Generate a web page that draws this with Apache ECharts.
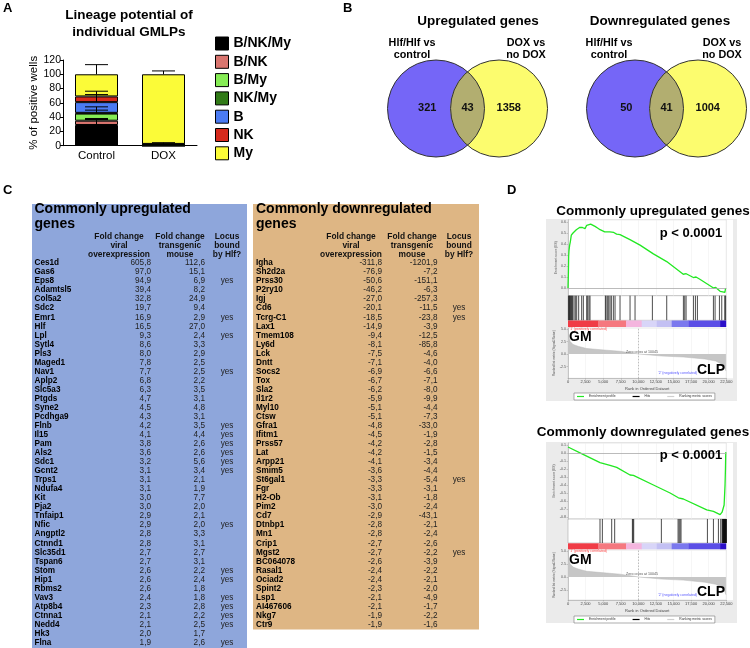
<!DOCTYPE html>
<html><head><meta charset="utf-8">
<script src="https://cdn.jsdelivr.net/npm/echarts@6/dist/echarts.min.js"></script>
<style>html,body{margin:0;padding:0;background:#fff}#c{width:750px;height:648px}</style>
</head><body><div id="c"></div>
<script>
// ---------------- DATA ----------------
const lineageCategories = ['Control', 'DOX'];
const lineageNames = ['B/NK/My', 'B/NK', 'B/My', 'NK/My', 'B', 'NK', 'My'];
const lineageControl = [29, 6, 10, 1, 15, 8, 31];
const lineageDox = [0, 0, 0, 2.5, 0, 0, 97.5];
const lineageControlErr = [7.7, 3.1, 9.4, 3.8, 10.6, 7.3, 13.5];
const lineageDoxErr = [0, 0, 0, 1.7, 0, 0, 4.7];
const lineageTicks = [0, 20, 40, 60, 80, 100, 120];

const vennUp = [321, 43, 1358];
const vennDown = [50, 41, 1004];

const upGenes = ['Ces1d','Gas6','Eps8','Adamtsl5','Col5a2','Sdc2','Emr1','Hlf','Lpl','Sytl4','Pls3','Maged1','Nav1','Aplp2','Slc5a3','Ptgds','Syne2','Pcdhga9','Flnb','Il15','Pam','Als2','Sdc1','Gcnt2','Trps1','Ndufa4','Kit','Pja2','Tnfaip1','Nfic','Angptl2','Ctnnd1','Slc35d1','Tspan6','Stom','Hip1','Rbms2','Vav3','Atp8b4','Ctnna1','Nedd4','Hk3','Flna'];
const upViral = [605.8,97.0,94.9,39.4,32.8,19.7,16.9,16.5,9.3,8.6,8.0,7.8,7.7,6.8,6.3,4.7,4.5,4.3,4.2,4.1,3.8,3.6,3.2,3.1,3.1,3.1,3.0,3.0,2.9,2.9,2.8,2.8,2.7,2.7,2.6,2.6,2.6,2.4,2.3,2.1,2.1,2.0,1.9];
const upTransgenic = [112.6,15.1,6.9,8.2,24.9,9.4,2.9,27.0,2.4,3.3,2.9,2.5,2.5,2.2,3.5,3.1,4.8,3.1,3.5,4.4,2.6,2.6,5.6,3.4,2.1,1.9,7.7,2.0,2.1,2.0,3.3,3.1,2.7,3.1,2.2,2.4,1.8,1.8,2.8,2.2,2.5,1.7,2.6];
const upBound = ['Eps8','Emr1','Lpl','Nav1','Flnb','Il15','Pam','Als2','Sdc1','Gcnt2','Nfic','Stom','Hip1','Vav3','Atp8b4','Ctnna1','Nedd4','Flna'];

const downGenes = ['Igha','Sh2d2a','Prss30','P2ry10','Igj','Cd6','Tcrg-C1','Lax1','Tmem108','Ly6d','Lck','Dntt','Socs2','Tox','Sla2','Il1r2','Myl10','Ctsw','Gfra1','Ifitm1','Prss57','Lat','Arpp21','Smim5','St6gal1','Fgr','H2-Ob','Pim2','Cd7','Dtnbp1','Mn1','Crip1','Mgst2','BC064078','Rasal1','Ociad2','Spint2','Lsp1','AI467606','Nkg7','Ctr9'];
const downViral = [-311.8,-76.9,-50.6,-46.2,-27.0,-20.1,-18.5,-14.9,-9.4,-8.1,-7.5,-7.1,-6.9,-6.7,-6.2,-5.9,-5.1,-5.1,-4.8,-4.5,-4.2,-4.2,-4.1,-3.6,-3.3,-3.3,-3.1,-3.0,-2.9,-2.8,-2.8,-2.7,-2.7,-2.6,-2.4,-2.4,-2.3,-2.1,-2.1,-1.9,-1.9];
const downTransgenic = [-1201.9,-7.2,-151.1,-6.3,-257.3,-11.5,-23.8,-3.9,-12.5,-85.8,-4.6,-4.0,-6.6,-7.1,-8.0,-9.9,-4.4,-7.3,-33.0,-1.9,-2.8,-1.5,-3.4,-4.4,-5.4,-3.1,-1.8,-2.4,-43.1,-2.1,-2.4,-2.6,-2.2,-3.9,-2.2,-2.1,-2.0,-4.9,-1.7,-2.2,-1.6];
const downBound = ['Cd6','Tcrg-C1','St6gal1','Mgst2'];

const gseaUpES = [[0,0],[60,0.14],[95,0.29],[140,0.34],[235,0.39],[330,0.42],[470,0.48],[600,0.47],[715,0.5],[900,0.49],[1180,0.53],[1400,0.52],[1640,0.55],[2050,0.55],[2420,0.54],[2660,0.57],[2900,0.565],[3225,0.58],[3500,0.575],[3840,0.56],[4200,0.545],[4560,0.53],[5220,0.51],[5500,0.51],[5940,0.51],[6195,0.52],[6500,0.505],[6910,0.49],[7400,0.485],[7885,0.47],[8805,0.44],[10240,0.39],[12135,0.31],[14030,0.24],[16385,0.125],[16800,0.13],[17820,0.095],[18200,0.1],[18740,0.08],[20685,0.0],[21000,0.005],[21620,-0.03],[22000,-0.035],[22300,-0.04],[22400,0.0]];
const gseaUpHits = [95,142,189,285,379,474,569,664,853,1043,1233,1517,1944,2181,2655,2797,2987,3129,5309,5405,5594,5784,5973,6163,6447,6685,7395,8818,9529,11994,14033,16403,16593,16782,17825,18110,18394,20669,20907,21523,21855,22281,22380];
const gseaDownES = [[0,0.075],[2000,-0.01],[4550,-0.12],[4790,-0.105],[5970,-0.155],[6920,-0.18],[8820,-0.275],[9300,-0.28],[12140,-0.4],[14510,-0.5],[15690,-0.56],[16400,-0.575],[19720,-0.71],[20670,-0.73],[21620,-0.77],[21900,-0.74],[22190,-0.65],[22320,-0.4],[22380,-0.2],[22420,0.0],[22440,0.01]];
const gseaDownHits = [4550,4885,6210,6635,9150,9245,9340,13270,15645,15790,15930,16065,19815,20670,21380,21710,21900,21995,22020,22050,22080,22100,22130,22160,22190,22220,22250,22280,22305,22330,22350,22365,22380,22395,22405,22415,22425,22432,22440,22446,22452];
const gseaMetric = [[0,5.5],[100,3.5],[310,2.5],[715,1.9],[1535,1.5],[2660,1.1],[5120,0.8],[7370,0.55],[10045,0],[13310,-0.4],[16380,-0.6],[19450,-1.0],[20990,-1.4],[21810,-2.0],[22320,-2.9],[22450,-3.4]];
const gseaZeroCross = 10045;
const gseaBarEdges = [0,4315,8250,10475,12610,14740,17115,21620,22450];
const gseaBarColors = ['#f03c46','#f5787f','#f4b5de','#d8d5f8','#c3c0f3','#7b78ee','#5b4ee6','#2b0fc9'];
const gseaRankTicks = [0,2500,5000,7500,10000,12500,15000,17500,20000,22500];
const gseaUpTicks = [0,0.1,0.2,0.3,0.4,0.5,0.6];
const gseaDownTicks = [0.1,0,-0.1,-0.2,-0.3,-0.4,-0.5,-0.6,-0.7,-0.8];
const gseaMetricTicks = [-2.5,0,2.5,5];

// ---------------- BUILD ----------------
const font = "'Liberation Sans', Arial, Helvetica, sans-serif";
const grids = [], xAxes = [], yAxes = [], series = [], graphics = [];
function addGrid(g, xa, ya) {
  grids.push(g); const gi = grids.length - 1;
  xa.gridIndex = gi; ya.gridIndex = gi; xAxes.push(xa); yAxes.push(ya); return gi;
}
function txt(text, x, y, o) {
  graphics.push({type:'text', z:100, silent:true, style:Object.assign({text, x, y, fill:'#000', fontFamily:font, fontSize:12, align:'left', verticalAlign:'middle'}, o||{})});
}
const commas = v => String(v).replace(/\B(?=(\d{3})+(?!\d))/g, ',');
const fmt = v => v.toFixed(1).replace('.', ',');

// panel labels
txt('A', 3, 8, {fontWeight:'bold', fontSize:13});
txt('B', 343, 8, {fontWeight:'bold', fontSize:13});
txt('C', 3, 190, {fontWeight:'bold', fontSize:13});
txt('D', 507, 190, {fontWeight:'bold', fontSize:13});

// ---- Panel A ----
const lineageColors = ['#000000','#d9756f','#86ec55','#317a17','#4b7bf3','#d62a1c','#fbfb38'];
txt('Lineage potential of\nindividual GMLPs', 129, 24, {fontWeight:'bold', fontSize:13.5, align:'center', lineHeight:17});
const gA = addGrid({left:63, top:60, width:134, height:85.7},
  {type:'category', data:lineageCategories, axisLine:{lineStyle:{color:'#000', width:1}},
   axisTick:{alignWithLabel:true, length:4, lineStyle:{color:'#000'}},
   axisLabel:{color:'#000', fontSize:11.5, fontFamily:font, margin:4}},
  {type:'value', min:0, max:120, interval:20, axisLine:{show:true, lineStyle:{color:'#000'}},
   axisTick:{show:true, length:3, lineStyle:{color:'#000'}}, splitLine:{show:false},
   axisLabel:{color:'#000', fontSize:10.5, fontFamily:font, margin:2, customValues:lineageTicks},
   name:'% of positive wells', nameLocation:'middle', nameGap:19,
   nameTextStyle:{fontSize:11.5, color:'#000', fontFamily:font}});
lineageNames.forEach((n, i) => series.push({type:'bar', name:n, stack:'lin', xAxisIndex:gA, yAxisIndex:gA, barWidth:43,
  data:[lineageControl[i], lineageDox[i]], itemStyle:{color:lineageColors[i], borderColor:'#000', borderWidth:1}, silent:true}));
const errData = [];
[lineageControl, lineageDox].forEach((vals, ci) => {
  const errs = ci === 0 ? lineageControlErr : lineageDoxErr; let cum = 0;
  vals.forEach((v, i) => { cum += v; if (errs[i] > 0) errData.push([ci, cum, cum + errs[i]]); });
});
series.push({type:'custom', xAxisIndex:gA, yAxisIndex:gA, data:errData, z:5, silent:true,
  renderItem:(p, api) => {
    const a = api.coord([api.value(0), api.value(1)]), b = api.coord([api.value(0), api.value(2)]), w = 11.5;
    return {type:'group', children:[
      {type:'line', shape:{x1:a[0], y1:a[1], x2:b[0], y2:b[1]}, style:{stroke:'#000', lineWidth:1}},
      {type:'line', shape:{x1:b[0]-w, y1:b[1], x2:b[0]+w, y2:b[1]}, style:{stroke:'#000', lineWidth:1}}]};
  }});

// ---- Panel B (Venn) ----
const vennR = 48.5, vennSep = 1.3;
txt('Upregulated genes', 478, 21, {fontWeight:'bold', fontSize:13.5, align:'center'});
txt('Downregulated genes', 660, 21, {fontWeight:'bold', fontSize:13.5, align:'center'});
function addVenn(cxA, cy, counts) {
  const g = addGrid({left:cxA - vennR, top:cy - vennR, width:(2 + vennSep) * vennR, height:2 * vennR},
    {type:'value', min:-1, max:1 + vennSep, show:false}, {type:'value', min:-1, max:1, show:false});
  series.push({type:'custom', xAxisIndex:g, yAxisIndex:g, silent:true, data:[[0, 0].concat(counts)],
    renderItem:(p, api) => {
      const c0 = api.coord([0, 0]), c1 = api.coord([vennSep, 0]), r = api.size([1, 1])[0];
      const d = c1[0] - c0[0], h = Math.sqrt(r * r - d * d / 4), al = Math.atan2(h, d / 2);
      const pts = [];
      for (let k = 0; k <= 40; k++) { const t = -al + 2 * al * k / 40; pts.push([c0[0] + r * Math.cos(t), c0[1] + r * Math.sin(t)]); }
      for (let k = 0; k <= 40; k++) { const t = Math.PI - al + 2 * al * k / 40; pts.push([c1[0] + r * Math.cos(t), c1[1] + r * Math.sin(t)]); }
      const tx = (s, x) => ({type:'text', style:{text:String(s), x, y:c0[1] - 1, fill:'#111', fontSize:11, fontWeight:'bold', fontFamily:font, align:'center', verticalAlign:'middle'}});
      return {type:'group', children:[
        {type:'circle', shape:{cx:c0[0], cy:c0[1], r}, style:{fill:'#7566f7'}},
        {type:'circle', shape:{cx:c1[0], cy:c1[1], r}, style:{fill:'#fcfc6e'}},
        {type:'polygon', shape:{points:pts}, style:{fill:'#b2ae70'}},
        {type:'circle', shape:{cx:c0[0], cy:c0[1], r}, style:{fill:null, stroke:'#333', lineWidth:1}},
        {type:'circle', shape:{cx:c1[0], cy:c1[1], r}, style:{fill:null, stroke:'#333', lineWidth:1}},
        tx(api.value(2), c0[0] - 0.18 * r), tx(api.value(3), (c0[0] + c1[0]) / 2), tx(api.value(4), c1[0] + 0.2 * r)]};
    }});
}
addVenn(436, 108.5, vennUp);
addVenn(635, 108.5, vennDown);
[[412, 'Hlf/Hlf vs\ncontrol'], [526, 'DOX vs\nno DOX'], [609, 'Hlf/Hlf vs\ncontrol'], [722, 'DOX vs\nno DOX']].forEach(([x, t]) =>
  txt(t, x, 49, {fontWeight:'bold', fontSize:10.8, align:'center', lineHeight:11.7}));

// ---- Panel C (tables) ----
function addTable(cfg) {
  graphics.push({type:'rect', z:-1, silent:true, shape:{x:cfg.x, y:204, width:cfg.w, height:cfg.bottom - 204}, style:{fill:cfg.bg}});
  txt(cfg.title + '\ngenes', cfg.x + cfg.cols.gene, 216.5, {fontWeight:'bold', fontSize:14, lineHeight:15.3});
  [['Fold change\nviral\noverexpression', cfg.cols.h1], ['Fold change\ntransgenic\nmouse', cfg.cols.h2], ['Locus\nbound\nby Hlf?', cfg.cols.yes]].forEach(([t, dx]) =>
    txt(t, cfg.x + dx, 245.6, {fontWeight:'bold', fontSize:8.4, align:'center', lineHeight:8.9, fill:'#111'}));
  const n = cfg.genes.length, rowH = 9.04;
  const g = addGrid({left:cfg.x, top:258.5, width:cfg.w, height:n * rowH},
    {type:'value', min:0, max:1, show:false}, {type:'category', data:cfg.genes, inverse:true, show:false});
  series.push({type:'custom', xAxisIndex:g, yAxisIndex:g, silent:true, data:cfg.genes.map((s, i) => [0, i]),
    renderItem:(p, api) => {
      const i = p.dataIndex, y = api.coord([0, i])[1], x0 = p.coordSys.x;
      const st = (text, x, o) => ({type:'text', style:Object.assign({text, x, y, fill:'#222', fontSize:8.2, fontFamily:font, align:'right', verticalAlign:'middle'}, o)});
      const ch = [st(cfg.genes[i], x0 + cfg.cols.gene, {fill:'#000', fontWeight:'bold', align:'left'}),
        st(fmt(cfg.v1[i]), x0 + cfg.cols.v1, {}), st(fmt(cfg.v2[i]), x0 + cfg.cols.v2, {})];
      if (cfg.bound.indexOf(cfg.genes[i]) >= 0) ch.push(st('yes', x0 + cfg.cols.yes, {align:'center'}));
      return {type:'group', children:ch};
    }});
}
addTable({x:32, w:215, bottom:648, bg:'#8ea6db', title:'Commonly upregulated', genes:upGenes, v1:upViral, v2:upTransgenic, bound:upBound,
  cols:{gene:2.5, v1:119, v2:173, yes:195, h1:87, h2:148}});
addTable({x:253, w:226, bottom:629.5, bg:'#deb684', title:'Commonly downregulated', genes:downGenes, v1:downViral, v2:downTransgenic, bound:downBound,
  cols:{gene:3, v1:129, v2:184.5, yes:206, h1:98, h2:159}});

// ---- Panel D (GSEA) ----
function addGsea(c) {
  graphics.push({type:'rect', z:-2, silent:true, shape:{x:546, y:c.boxTop, width:191, height:c.boxH}, style:{fill:'#ebebeb'}});
  graphics.push({type:'rect', z:-1, silent:true, shape:{x:568, y:c.esTop, width:165, height:c.metTop + c.metH - c.esTop}, style:{fill:'#fff'}});
  const L = 568, W = 158.3, axC = '#9a9a9a';
  const gEs = addGrid({left:L, width:W, top:c.esTop, height:c.esH, show:true, borderColor:'#ccc', borderWidth:0.5, backgroundColor:'#fff'},
    {type:'value', min:0, max:22500, interval:2500, axisLabel:{show:false}, axisTick:{show:false}, axisLine:{show:false},
     splitLine:{show:true, lineStyle:{color:'#ececec', width:0.5}}},
    {type:'value', min:c.esMin, max:c.esMax, axisLine:{show:true, lineStyle:{color:axC, width:0.5}},
     axisTick:{show:true, customValues:c.esTicks, length:1.5, lineStyle:{color:axC, width:0.5}},
     axisLabel:{customValues:c.esTicks, fontSize:3.6, color:'#555', margin:2, fontFamily:font, formatter:v => v.toFixed(1)},
     splitLine:{show:false}, name:'Enrichment score (ES)', nameLocation:'middle', nameGap:10,
     nameTextStyle:{fontSize:3.3, color:'#555', fontFamily:font}});
  series.push({type:'line', name:'Enrichment profile', xAxisIndex:gEs, yAxisIndex:gEs, data:c.es, showSymbol:false, silent:true,
    lineStyle:{color:'#22e822', width:1.3}, itemStyle:{color:'#22e822'}, z:4,
    markLine:{silent:true, symbol:'none', label:{show:false}, lineStyle:{color:'#aaa', width:0.8, type:'solid'}, data:[{yAxis:0}]}});
  const gH = addGrid({left:L, width:W, top:c.hitsTop, height:c.hitsH, show:true, borderColor:'#999', borderWidth:0.5, backgroundColor:'#fff'},
    {type:'value', min:0, max:22500, show:false}, {type:'value', min:0, max:1, show:false});
  series.push({type:'custom', name:'Hits', xAxisIndex:gH, yAxisIndex:gH, silent:true, itemStyle:{color:'#000'}, data:c.hits.map(r => [r, 0]),
    renderItem:(p, api) => { const a = api.coord([api.value(0), 0]), b = api.coord([api.value(0), 1]);
      return {type:'line', shape:{x1:a[0], y1:a[1], x2:b[0], y2:b[1]}, style:{stroke:'#111', lineWidth:0.75}}; }});
  const gB = addGrid({left:L, width:W, top:c.barTop, height:c.barH},
    {type:'value', min:0, max:22500, show:false}, {type:'value', min:0, max:1, show:false});
  series.push({type:'custom', xAxisIndex:gB, yAxisIndex:gB, silent:true,
    data:gseaBarColors.map((col, i) => [gseaBarEdges[i], gseaBarEdges[i + 1], i]), encode:{x:[0, 1]},
    renderItem:(p, api) => { const a = api.coord([api.value(0), 1]), b = api.coord([api.value(1), 0]);
      return {type:'rect', shape:{x:a[0], y:a[1], width:b[0] - a[0] + 0.3, height:b[1] - a[1]}, style:{fill:gseaBarColors[api.value(2)]}}; }});
  const gM = addGrid({left:L, width:W, top:c.metTop, height:c.metH, show:true, borderColor:'#ccc', borderWidth:0.5, backgroundColor:'#fff'},
    {type:'value', min:0, max:22500, interval:2500,
     axisLine:{show:true, onZero:false, lineStyle:{color:axC, width:0.5}}, axisTick:{show:true, length:1.5, lineStyle:{color:axC, width:0.5}},
     axisLabel:{fontSize:4, color:'#444', margin:1.5, fontFamily:font, formatter:v => commas(v)},
     splitLine:{show:true, lineStyle:{color:'#ececec', width:0.5}}, name:'Rank in Ordered Dataset', nameLocation:'middle', nameGap:8.5,
     nameTextStyle:{fontSize:4, color:'#444', fontFamily:font}},
    {type:'value', min:c.metMin, max:c.metMax, axisLine:{show:true, onZero:false, lineStyle:{color:axC, width:0.5}},
     axisTick:{show:true, customValues:gseaMetricTicks, length:1.5, lineStyle:{color:axC, width:0.5}},
     axisLabel:{customValues:gseaMetricTicks, fontSize:3.6, color:'#555', margin:2, fontFamily:font, formatter:v => v.toFixed(1)},
     splitLine:{show:false}, name:'Ranked list metric (Signal2Noise)', nameLocation:'middle', nameGap:11,
     nameTextStyle:{fontSize:3.1, color:'#555', fontFamily:font}});
  series.push({type:'line', name:'Ranking metric scores', xAxisIndex:gM, yAxisIndex:gM, data:gseaMetric, showSymbol:false, silent:true,
    lineStyle:{color:'#b8b8b8', width:0.5}, areaStyle:{color:'#c6c6c6', opacity:1}, itemStyle:{color:'#cfcfcf'},
    markLine:{silent:true, symbol:'none', label:{show:false}, lineStyle:{color:'#999', width:0.6, type:[1.5, 1.5]}, data:[{xAxis:gseaZeroCross}]}});
  // texts
  txt(c.title, c.titleX, c.titleY, {fontWeight:'bold', fontSize:13.5, align:'center'});
  txt('p < 0.0001', 691, c.pY, {fontWeight:'bold', fontSize:13, align:'center'});
  txt('GM', 569, c.gmY, {fontWeight:'bold', fontSize:14});
  txt('CLP', 725, c.clpY, {fontWeight:'bold', fontSize:14, align:'right'});
  txt("'1' (positively correlated)", 569.5, c.posY, {fontSize:3.5, fill:'#ff4a4a'});
  txt("'2' (negatively correlated)", 697, c.negY, {fontSize:3.5, fill:'#5555ff', align:'right'});
  txt('Zero cross at ' + gseaZeroCross, 642, c.zeroY, {fontSize:3.6, fill:'#555', align:'center'});
}
addGsea({title:'Commonly upregulated genes', titleX:653, titleY:211, boxTop:219, boxH:182, es:gseaUpES, hits:gseaUpHits,
  esMin:-0.07, esMax:0.62, esTicks:gseaUpTicks, esTop:219.8, esH:75.9, hitsTop:295.7, hitsH:24.6, barTop:320.5, barH:6.5,
  metTop:328, metH:50.3, metMin:-4.86, metMax:5.2, pY:233, gmY:337, clpY:370, posY:329.5, negY:373, zeroY:352});
addGsea({title:'Commonly downregulated genes', titleX:643, titleY:432, boxTop:442, boxH:181, es:gseaDownES, hits:gseaDownHits,
  esMin:-0.825, esMax:0.125, esTicks:gseaDownTicks, esTop:443, esH:76, hitsTop:519, hitsH:24, barTop:543.3, barH:6,
  metTop:550, metH:50, metMin:-4.42, metMax:5.19, pY:455, gmY:560, clpY:592, posY:551.5, negY:595, zeroY:574});

const gseaLegend = top => ({data:['Enrichment profile', 'Hits', 'Ranking metric scores'], left:574, top, orient:'horizontal',
  itemWidth:7, itemHeight:1.2, itemGap:17, icon:'rect', padding:[2, 3], borderColor:'#777', borderWidth:0.6,
  backgroundColor:'#fff', selectedMode:false, textStyle:{fontSize:3.3, color:'#333', fontFamily:font}});

const chart = echarts.init(document.getElementById('c'), null, {renderer:'canvas'});
chart.setOption({
  animation:false, backgroundColor:'#fff',
  grid:grids, xAxis:xAxes, yAxis:yAxes, series,
  legend:[{data:lineageNames, orient:'vertical', left:215, top:36.5, itemWidth:13, itemHeight:13, itemGap:4.3, icon:'rect',
    padding:0, selectedMode:false, itemStyle:{borderColor:'#000', borderWidth:1},
    textStyle:{fontSize:14, fontWeight:'bold', color:'#000', fontFamily:font}}, gseaLegend(393), gseaLegend(616)],
  graphic:{elements:graphics}
});
</script></body></html>
